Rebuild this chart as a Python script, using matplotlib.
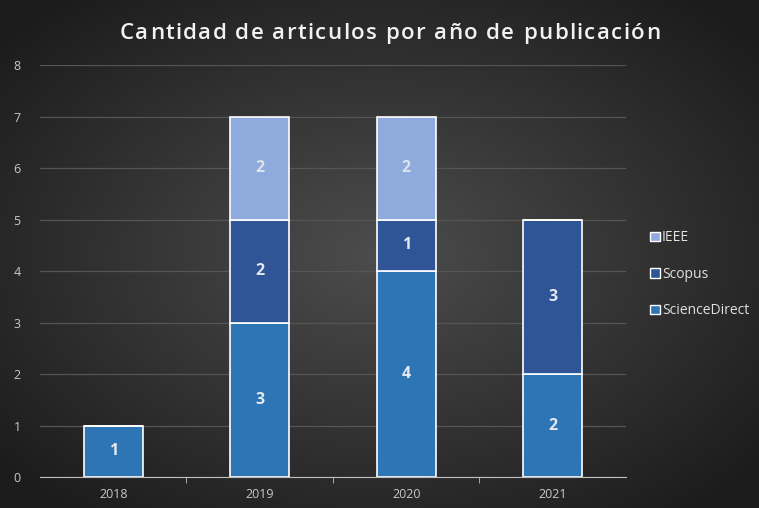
import numpy as np
import matplotlib
matplotlib.use('Agg')
import matplotlib.pyplot as plt
from matplotlib.patches import Patch

# datos
anios = ['2018', '2019', '2020', '2021']
sciencedirect = [1, 3, 4, 2]
scopus = [0, 2, 1, 3]
ieee = [0, 2, 2, 0]
series = ['ScienceDirect', 'Scopus', 'IEEE']
colores = ['#2e75b6', '#2f5597', '#8faadc']
titulo = 'Cantidad de articulos por año de publicación'

plt.rcParams['font.family'] = ['Open Sans', 'DejaVu Sans']

fig = plt.figure(figsize=(7.59, 5.08), dpi=100)

# fondo con degradado radial (centro claro, bordes oscuros)
bg = fig.add_axes([0, 0, 1, 1], zorder=-10)
yy, xx = np.mgrid[-1:1:300j, -1:1:450j]
r = np.clip(np.sqrt(xx**2 + yy**2) / 1.3, 0, 1)
g = 0.30 - 0.19 * r
img = np.dstack([g, g, g])
bg.imshow(img, aspect='auto', extent=[0, 1, 0, 1])
bg.axis('off')

ax = fig.add_axes([0.0527, 0.061, 0.772, 0.811])
ax.patch.set_alpha(0)

x = np.arange(len(anios))
base = np.zeros(len(anios))
for nombre, vals, col in zip(series, [sciencedirect, scopus, ieee], colores):
    vals = np.array(vals, dtype=float)
    barras = ax.bar(x, vals, 0.4, bottom=base, color=col, edgecolor='white',
                    linewidth=1.2, label=nombre, zorder=3)
    for b, v, y0 in zip(barras, vals, base):
        if v > 0:
            tc = '#dde3ee' if nombre == 'IEEE' else '#e4e8f0'
            ax.text(b.get_x() + b.get_width() / 2, y0 + v / 2, str(int(v)),
                    ha='center', va='center', color=tc, fontsize=11.5,
                    fontweight='bold', zorder=4)
    base += vals

ax.set_xlim(-0.5, 3.5)
ax.set_ylim(0, 8)
ax.set_yticks(range(9))
ax.set_xticks(x)
ax.set_xticklabels(anios)
ax.set_xticks([0.5, 1.5, 2.5], minor=True)
ax.tick_params(axis='x', which='major', length=0, colors='#c8c8c8', labelsize=9, pad=8)
ax.tick_params(axis='x', which='minor', length=4, color='#bfbfbf', direction='out')
ax.tick_params(axis='y', length=0, colors='#c8c8c8', labelsize=9, pad=14)
ax.grid(axis='y', color='#555555', linewidth=0.9, zorder=0)
for s in ['top', 'right', 'left']:
    ax.spines[s].set_visible(False)
ax.spines['bottom'].set_color('#bfbfbf')
ax.spines['bottom'].set_zorder(5)

handles = [Patch(facecolor=c, edgecolor='white', label=n)
           for n, c in zip(series[::-1], colores[::-1])]
leg = fig.legend(handles=handles, loc='center left', bbox_to_anchor=(0.84, 0.46),
                 frameon=False, handlelength=0.7, handleheight=0.7,
                 handletextpad=0.15, labelspacing=1.55, fontsize=10)
for t in leg.get_texts():
    t.set_color('#e0e0e0')

# titulo con espaciado entre letras
fig.canvas.draw()
rend = fig.canvas.get_renderer()
props = dict(color='#f2f2f2', fontsize=16, fontweight='semibold', va='center')
extra = 1.4  # px entre letras
anchos = []
for ch in titulo:
    t = fig.text(0, 0, ch if ch != ' ' else 'a a', **props)
    w = t.get_window_extent(rend).width
    if ch == ' ':
        t2 = fig.text(0, 0, 'aa', **props)
        w = w - t2.get_window_extent(rend).width
        t2.remove()
    t.remove()
    anchos.append(w + extra)
total = sum(anchos) - extra
W = fig.get_figwidth() * fig.dpi
xpos = 390 - total / 2
for ch, w in zip(titulo, anchos):
    if ch != ' ':
        fig.text(xpos / W, 0.935, ch, ha='left', **props)
    xpos += w

fig.savefig('out.png', dpi=100)
